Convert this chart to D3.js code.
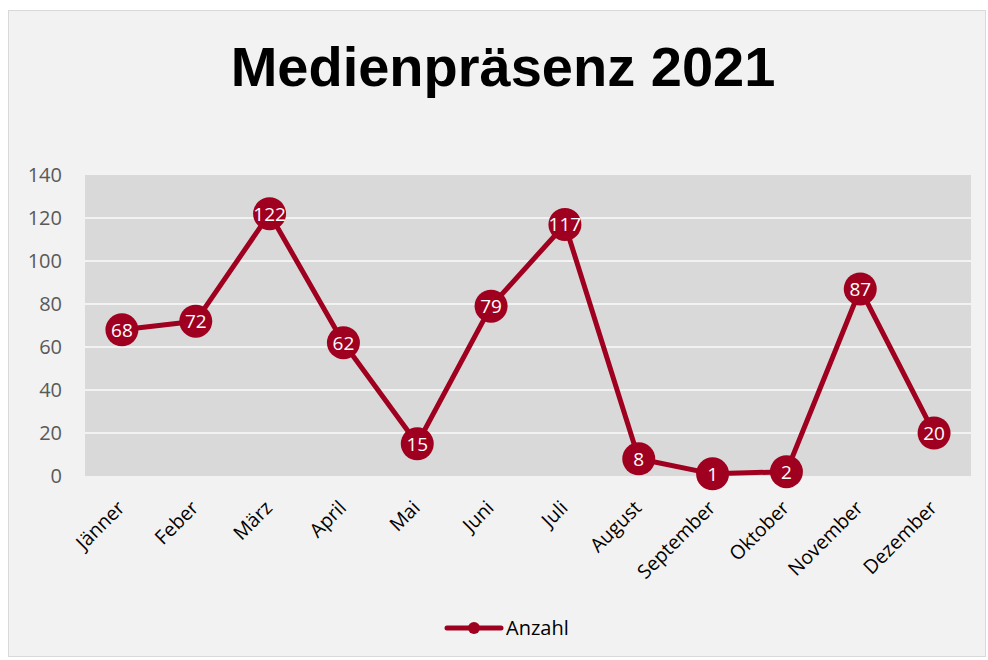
<!DOCTYPE html>
<html><head><meta charset="utf-8">
<script src="https://cdn.jsdelivr.net/npm/d3@7/dist/d3.min.js"></script>
<style>body{margin:0;background:#fff;}svg{display:block;}</style>
</head><body>
<svg id="c" width="988" height="660"></svg>
<script>
const categories = ["Jänner","Feber","März","April","Mai","Juni","Juli","August","September","Oktober","November","Dezember"];
const values = [68,72,122,62,15,79,117,8,1,2,87,20];
const yTicks = [0,20,40,60,80,100,120,140];
const seriesName = "Anzahl";
const title = "Medienpräsenz 2021";

(function(){
const svg = d3.select("#c");
const red = "#a0001f";
const font = "'Open Sans', 'Noto Sans', sans-serif";

svg.append("rect").attr("x",8.5).attr("y",10.5).attr("width",977).attr("height",646)
  .attr("fill","#f2f2f2").attr("stroke","#d9d9d9");

svg.append("text").attr("x",503).attr("y",86).attr("text-anchor","middle")
  .attr("font-family","'Liberation Sans', Arial, sans-serif").attr("font-weight","bold")
  .attr("font-size",56).attr("fill","#000").text(title);

const pL=85, pR=971, pT=175, pB=476;
const x = d3.scaleBand().domain(categories).range([pL,pR]);
const y = d3.scaleLinear().domain([0,140]).range([pB,pT]);

svg.append("rect").attr("x",pL).attr("y",pT).attr("width",pR-pL).attr("height",pB-pT).attr("fill","#d9d9d9");

svg.append("g").selectAll("line").data(yTicks.slice(1,-1)).join("line")
  .attr("x1",pL).attr("x2",pR).attr("y1",d=>y(d)).attr("y2",d=>y(d))
  .attr("stroke","#f2f2f2").attr("stroke-width",2);

const yAxis = svg.append("g").attr("transform",`translate(${pL},0)`)
  .call(d3.axisLeft(y).tickValues(yTicks).tickSize(0).tickPadding(23));
yAxis.select(".domain").remove();
yAxis.selectAll("text").attr("font-family",font).attr("font-size",20).attr("fill","#595959");

const xAxis = svg.append("g").attr("transform",`translate(0,${pB})`)
  .call(d3.axisBottom(x).tickSize(0).tickPadding(0));
xAxis.select(".domain").remove();
xAxis.selectAll("text").attr("font-family",font).attr("font-size",19.5).attr("fill","#000")
  .attr("text-anchor","end").attr("dy","0")
  .attr("transform","translate(4,33) rotate(-45)");

const cx = (d,i)=>x(categories[i])+x.bandwidth()/2;
const line = d3.line().x((d,i)=>cx(d,i)).y(d=>y(d));
svg.append("path").datum(values).attr("d",line).attr("fill","none")
  .attr("stroke",red).attr("stroke-width",5).attr("stroke-linejoin","round");

svg.append("g").selectAll("circle").data(values).join("circle")
  .attr("cx",cx).attr("cy",d=>y(d)).attr("r",16.5).attr("fill",red);

svg.append("g").selectAll("text").data(values).join("text")
  .attr("x",cx).attr("y",d=>y(d)).attr("dy","0.36em").attr("text-anchor","middle")
  .attr("font-family",font).attr("font-size",19).attr("fill","#fff").text(d=>d);

const lg = svg.append("g");
lg.append("line").attr("x1",447).attr("x2",501).attr("y1",628).attr("y2",628).attr("stroke",red).attr("stroke-width",5).attr("stroke-linecap","round");
lg.append("circle").attr("cx",474).attr("cy",628).attr("r",6).attr("fill",red);
lg.append("text").attr("x",506).attr("y",628).attr("dy","0.36em").attr("font-family",font).attr("font-size",20).attr("fill","#000").text(seriesName);
})();
</script>
</body></html>
